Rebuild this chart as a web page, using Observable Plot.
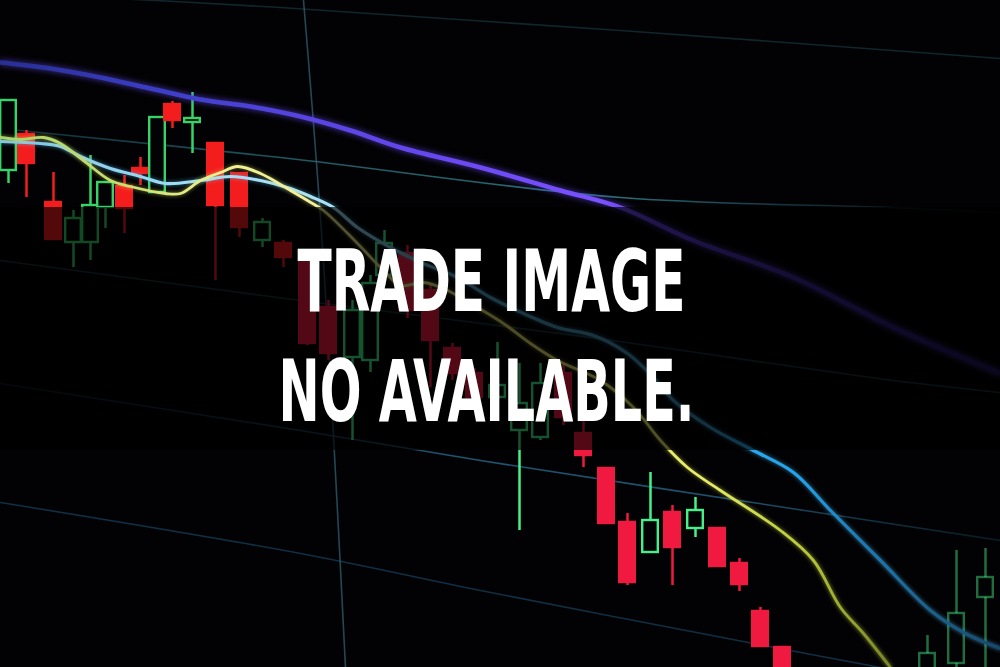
<!DOCTYPE html>
<html>
<head>
<meta charset="utf-8">
<script src="https://cdn.jsdelivr.net/npm/d3@7"></script>
<script src="https://cdn.jsdelivr.net/npm/@observablehq/plot@0.6"></script>
<style>
  html, body { margin: 0; padding: 0; background: #020204; overflow: hidden; }
  #chart svg { display: block; }
</style>
</head>
<body>
<div id="chart"></div>
<script>
// ---- Candles (horizontal position, body / wick extents measured from the top) ----
const candleX    = [8,26,53,73,90,105,124,140,157,172,192,215,239,262,283,307,328,352,370,384,407,430,452,474,497,519,540,563,583,606,627,650,672,695,717,739,760,782,927,956,985];
const bodyTop    = [100,134,202,218,205,182,186,168,117,104,118,143,173,222,243,260,307,310,283,243,253,290,348,373,385,403,383,373,433,468,522,520,512,510,528,563,611,647,653,613,577];
const bodyBottom = [170,163,239,242,242,207,208,173,192,120,122,205,227,240,257,343,353,357,360,275,310,340,373,397,397,430,437,417,455,523,582,552,547,528,566,584,646,690,700,663,597];
const wickTop    = [100,130,172,210,155,182,175,157,117,101,92,143,173,218,240,255,300,300,275,230,245,285,343,368,342,363,363,365,410,468,513,472,505,497,528,558,607,647,635,550,548];
const wickBottom = [183,197,240,267,260,228,233,185,192,128,153,280,237,247,267,345,360,440,372,285,318,387,380,402,405,530,440,425,467,523,585,552,585,537,566,591,646,690,700,680,690];
const candleUp   = [1,0,0,1,1,1,0,0,1,0,1,0,0,1,0,0,0,1,1,1,0,0,0,0,1,1,1,0,0,0,0,1,0,1,0,0,0,0,1,1,1];

// ---- Moving-average lines ----
const maLongX  = [0,50,100,150,200,250,300,350,400,480,560,620,693,793,893,1000];
const maLongY  = [62,68,77,88,99,106,116,130,147,167,190,207,240,277,327,373];
const maShortX = [0,20,43,60,83,110,130,165,180,200,220,237,260,290,307,323,357,383,400,423,443,477,503,530,557,600,633,660,687,720,780,813,840,863,890];
const maShortY = [137,139,137,143,160,180,186,193,193,180,172,166,173,190,200,210,243,270,285,282,288,307,323,343,360,380,407,440,467,490,530,560,607,633,667];
const maMidX   = [0,40,60,80,110,140,165,200,230,260,290,310,333,357,390,423,457,490,523,557,593,627,653,673,710,753,793,830,880,930,965,1000];
const maMidY   = [141,143,146,156,168,176,183,180,176,180,188,196,207,227,247,263,277,297,313,327,335,353,377,400,427,450,472,510,560,610,633,648];

// ---- Faint grid lines of the photographed screen ----
const gridVX = [303,322,345],            gridVY = [0,247,667];
const gridTopX = [0,280,620,1000],       gridTopY = [-8,7,30,58];
const gridAX = [0,280,620,890,1000],     gridAY = [128,157,197,207,212];
const gridEX = [0,300,590,893,1000],     gridEY = [260,300,337,380,392];
const gridCX = [0,300,480,850,1000],     gridCY = [383,430,460,517,540];
const gridDX = [0,300,480,753,880],      gridDY = [502,553,590,643,667];

// ---- Overlay band behind the caption ----
const dimBand = [{from: 207, to: 450}];

// ---- Caption ----
const titleLines = ["TRADE IMAGE", "NO AVAILABLE."];

// ---- Build tables ----
const pts = (xs, ys) => xs.map((x, i) => ({x, y: ys[i]}));
const candles = candleX.map((x, i) => ({
  x, bt: bodyTop[i], bb: bodyBottom[i], wt: wickTop[i], wb: wickBottom[i], up: candleUp[i] === 1
}));

const redOf = d => d.x < 300 ? "#f41d1d" : "#f0193f";
const greenOf = d => d.x < 300 ? "#36d468" : "#44f08a";
const colorOf = d => d.up ? greenOf(d) : redOf(d);
const HW = 7.8;
const fade = d => d.x > 900 ? 0.45 : 1;
const FONT = "'Liberation Sans Narrow', 'DejaVu Sans Condensed', 'Roboto', sans-serif";

const gridLine = (xs, ys, color, op) =>
  Plot.line(pts(xs, ys), {x: "x", y: "y", stroke: color, strokeWidth: 1.6, strokeOpacity: op, curve: "catmull-rom"});

const chart = Plot.plot({
  width: 1000,
  height: 667,
  margin: 0,
  x: {domain: [0, 1000], axis: null},
  y: {domain: [0, 667], reverse: true, axis: null},
  style: {background: "#020204", overflow: "hidden"},
  marks: [
    gridLine(gridTopX, gridTopY, "#16363d", 0.7),   // line 0
    gridLine(gridAX, gridAY, "#24626c", 1),         // line 1 (gradient later)
    gridLine(gridEX, gridEY, "#153a44", 0.9),       // line 2
    gridLine(gridCX, gridCY, "#1d5570", 1),         // line 3 (gradient later)
    gridLine(gridDX, gridDY, "#12344a", 0.9),       // line 4
    gridLine(gridVX, gridVY, "#2f6070", 0.75),      // line 5

    // wicks
    Plot.ruleX(candles, {
      x: "x", y1: "wt", y2: "wb",
      stroke: colorOf, strokeWidth: 2.5, strokeOpacity: fade, clip: true
    }),
    // bodies
    Plot.rect(candles, {
      x1: d => d.x - HW, x2: d => d.x + HW, y1: "bt", y2: "bb",
      fill: d => d.up ? "#030305" : redOf(d),
      stroke: colorOf,
      strokeWidth: 2.4, strokeOpacity: fade, fillOpacity: d => d.up ? 1 : fade(d),
      clip: true
    }),

    // moving averages
    Plot.line(pts(maLongX, maLongY), {x: "x", y: "y", stroke: "#6a48f2", strokeWidth: 4.5, curve: "catmull-rom"}),   // line 6
    Plot.line(pts(maMidX, maMidY), {x: "x", y: "y", stroke: "#7ac4e6", strokeWidth: 3.2, curve: "catmull-rom", clip: true}),  // line 7
    Plot.line(pts(maShortX, maShortY), {x: "x", y: "y", stroke: "#e6e86a", strokeWidth: 2.8, curve: "catmull-rom", clip: true}), // line 8

    // darkened band behind the caption
    Plot.rect(dimBand, {x1: 0, x2: 1000, y1: "from", y2: "to", fill: "#000000", fillOpacity: 0.66}),

    // caption
    Plot.text([titleLines[0]], {
      text: d => d, frameAnchor: "middle", textAnchor: "middle", lineAnchor: "bottom",
      dx: -9, dy: -23.5, fill: "#ffffff", fontSize: 86, fontWeight: 700, fontFamily: FONT
    }),
    Plot.text([titleLines[1]], {
      text: d => d, frameAnchor: "middle", textAnchor: "middle", lineAnchor: "bottom",
      dx: -14, dy: 86.5, fill: "#ffffff", fontSize: 86, fontWeight: 700, fontFamily: FONT
    })
  ]
});

document.getElementById("chart").appendChild(chart);

// ---- gradients & glow ----
const svg = d3.select(chart);
const defs = svg.insert("defs", ":first-child");
function grad(id, stops) {
  const g = defs.append("linearGradient").attr("id", id)
    .attr("gradientUnits", "userSpaceOnUse")
    .attr("x1", 0).attr("x2", 1000).attr("y1", 0).attr("y2", 0);
  stops.forEach(([o, c, a]) => g.append("stop").attr("offset", o).attr("stop-color", c).attr("stop-opacity", a == null ? 1 : a));
}
grad("gPurple", [[0, "#2a33a0", 0.85], [0.15, "#3a3ec4"], [0.3, "#5644e0"], [0.45, "#6a48f2"], [0.6, "#7a52ff"], [0.66, "#5e3ad8"], [0.8, "#3c2698"], [1, "#1e1660", 0.8]]);
grad("gYellow", [[0, "#a6d66a"], [0.12, "#c8de70"], [0.22, "#eef090"], [0.3, "#f3f0a0"], [0.5, "#e2dc70"], [0.7, "#e6ee6a"], [0.8, "#b8cc38"], [0.9, "#6f8020"], [1, "#3a4a14"]]);
grad("gCyan", [[0, "#7ac4e6"], [0.2, "#a4def6"], [0.33, "#a8e2f8"], [0.45, "#5aa4bc"], [0.7, "#3a8cb4"], [0.75, "#26a8f0"], [0.8, "#22a2ea"], [0.86, "#1e7ab4"], [1, "#17486a"]]);
grad("gA", [[0, "#15414a", 0.7], [0.3, "#24626c", 0.9], [0.62, "#2a6e78"], [0.8, "#173e46", 0.8], [1, "#0a1a1e", 0.3]]);
grad("gC", [[0, "#0e2a38", 0.6], [0.45, "#1d5570"], [0.75, "#1c5068"], [1, "#0f2a3a", 0.6]]);

const lineGroups = svg.selectAll('g[aria-label="line"]').nodes();
const setLine = (i, strokeUrl, glow) => {
  const g = d3.select(lineGroups[i]);
  if (strokeUrl) { g.attr("stroke", strokeUrl); g.selectAll("path").attr("stroke", strokeUrl); }
  if (glow) g.selectAll("path").style("filter", glow);
};
setLine(1, "url(#gA)");
setLine(3, "url(#gC)");
setLine(6, "url(#gPurple)", "drop-shadow(0 0 3px rgba(110,80,255,0.7))");
setLine(7, "url(#gCyan)", "drop-shadow(0 0 2px rgba(90,190,240,0.6))");
setLine(8, "url(#gYellow)", "drop-shadow(0 0 2px rgba(230,230,100,0.6))");

// condensed caption width, as in the picture
const texts = svg.selectAll('g[aria-label="text"] text').nodes();
if (texts[0]) d3.select(texts[0]).attr("textLength", 388).attr("lengthAdjust", "spacingAndGlyphs");
if (texts[1]) d3.select(texts[1]).attr("textLength", 416).attr("lengthAdjust", "spacingAndGlyphs");
</script>
</body>
</html>
